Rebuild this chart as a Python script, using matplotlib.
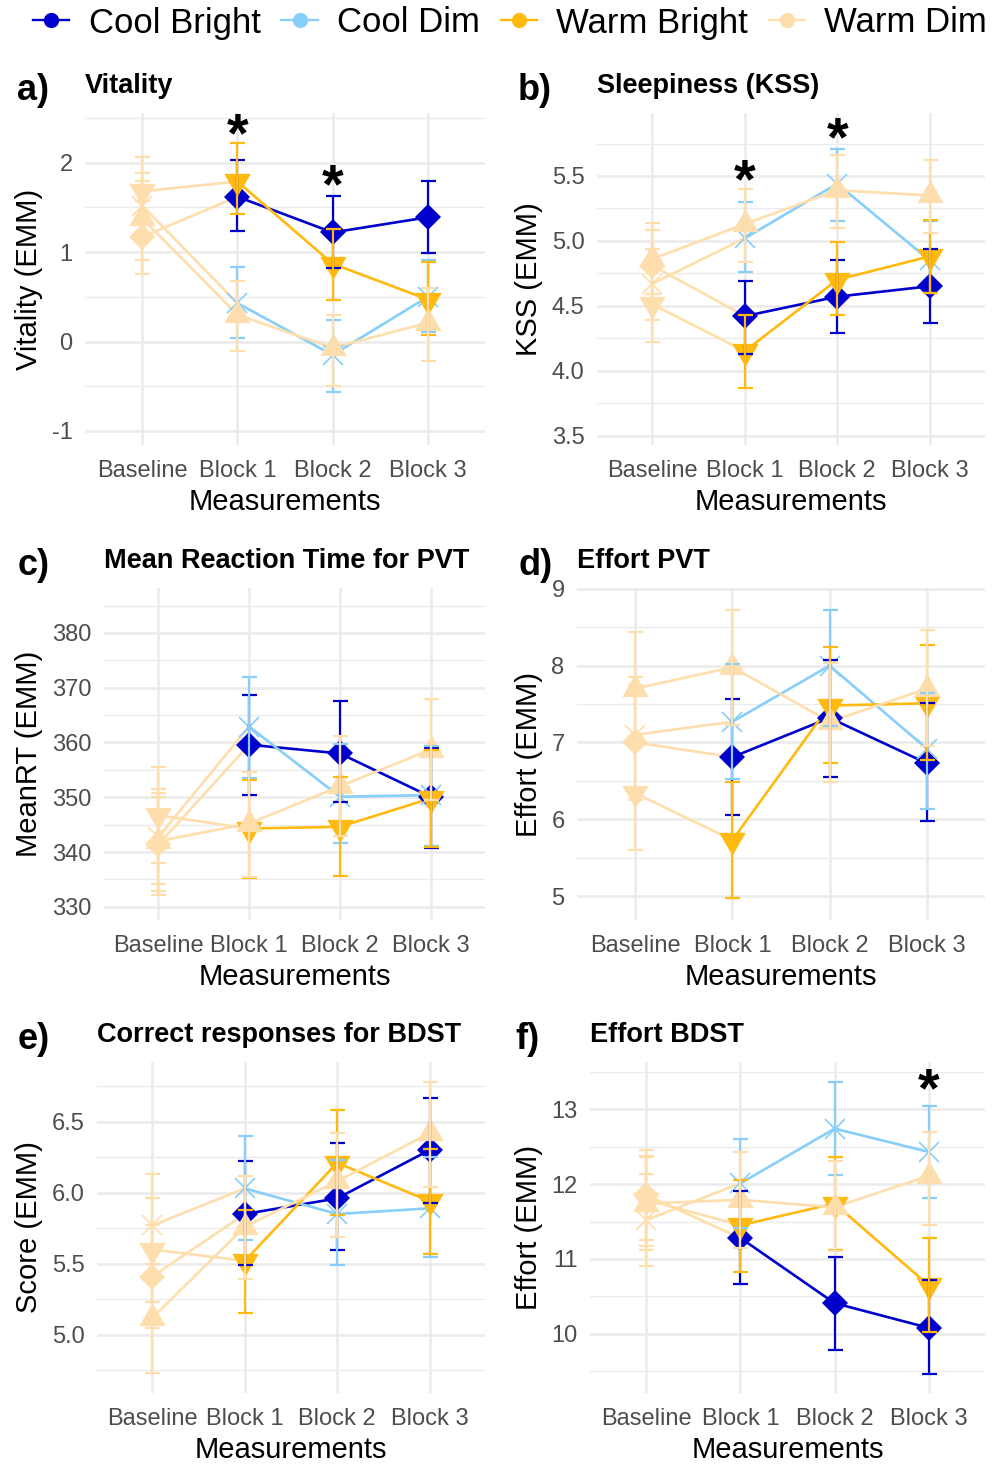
import matplotlib.pyplot as plt
from matplotlib.lines import Line2D
from matplotlib.path import Path
from matplotlib.ticker import FormatStrFormatter

plt.rcParams['font.family'] = ['Liberation Sans', 'DejaVu Sans']
plt.rcParams['axes.unicode_minus'] = False

W, H = 1005, 1466

measurements = ['Baseline', 'Block 1', 'Block 2', 'Block 3']
conditions = ['Cool Bright', 'Cool Dim', 'Warm Bright', 'Warm Dim']
colors = ['#0000CD', '#87CEFA', '#FFB90F', '#FFDEAD']
baseline_color = '#FFDEAD'

# EMMs and 95% CI per condition (rows: Cool Bright, Cool Dim, Warm Bright, Warm Dim)
vitality_emm = [[1.17, 1.62, 1.22, 1.39],
                [1.52, 0.43, -0.15, 0.50],
                [1.68, 1.79, 0.87, 0.47],
                [1.38, 0.30, -0.07, 0.21]]
vitality_lo = [[0.75, 1.24, 0.82, 0.99],
               [1.14, 0.04, -0.56, 0.11],
               [1.30, 1.43, 0.47, 0.07],
               [0.91, -0.11, -0.50, -0.22]]
vitality_hi = [[1.57, 2.03, 1.63, 1.80],
               [1.88, 0.83, 0.24, 0.91],
               [2.06, 2.22, 1.26, 0.89],
               [1.80, 0.68, 0.30, 0.60]]

kss_emm = [[4.81, 4.42, 4.57, 4.65],
           [4.67, 5.02, 5.44, 4.85],
           [4.51, 4.15, 4.70, 4.88],
           [4.86, 5.13, 5.39, 5.35]]
kss_lo = [[4.54, 4.13, 4.29, 4.37],
          [4.39, 4.76, 5.15, 4.60],
          [4.22, 3.87, 4.43, 4.60],
          [4.59, 4.84, 5.10, 5.06]]
kss_hi = [[5.08, 4.69, 4.85, 4.94],
          [4.94, 5.30, 5.71, 5.15],
          [4.80, 4.43, 4.99, 5.16],
          [5.14, 5.40, 5.66, 5.62]]

rt_emm = [[341.4, 359.6, 358.0, 350.1],
          [342.8, 362.9, 350.1, 350.4],
          [346.7, 344.3, 344.6, 349.8],
          [342.0, 345.2, 352.0, 358.7]]
rt_lo = [[332.1, 350.5, 349.2, 340.7],
         [334.1, 353.6, 341.6, 341.1],
         [338.0, 335.3, 335.7, 340.9],
         [332.9, 335.5, 342.9, 349.5]]
rt_hi = [[350.7, 368.7, 367.5, 359.0],
         [351.6, 372.0, 359.7, 359.3],
         [355.6, 353.2, 353.7, 358.7],
         [350.1, 354.7, 361.1, 367.9]]

effort_pvt_emm = [[7.00, 6.81, 7.32, 6.73],
                  [7.10, 7.27, 8.00, 6.92],
                  [6.34, 5.73, 7.48, 7.51],
                  [7.70, 7.98, 7.27, 7.70]]
effort_pvt_lo = [[6.25, 6.06, 6.55, 5.98],
                 [6.35, 6.52, 7.21, 6.14],
                 [5.60, 4.98, 6.73, 6.77],
                 [6.95, 7.23, 6.49, 6.95]]
effort_pvt_hi = [[7.75, 7.56, 8.07, 7.52],
                 [7.85, 8.02, 8.72, 7.65],
                 [7.08, 6.49, 8.24, 8.27],
                 [8.44, 8.73, 8.03, 8.46]]

bdst_emm = [[5.41, 5.85, 5.96, 6.30],
            [5.77, 6.03, 5.85, 5.89],
            [5.60, 5.52, 6.21, 5.94],
            [5.12, 5.76, 6.08, 6.42]]
bdst_lo = [[5.05, 5.49, 5.60, 5.93],
           [5.41, 5.67, 5.49, 5.55],
           [5.23, 5.15, 5.84, 5.57],
           [4.73, 5.39, 5.69, 6.04]]
bdst_hi = [[5.77, 6.22, 6.35, 6.67],
           [6.13, 6.40, 6.23, 6.25],
           [5.96, 5.88, 6.58, 6.31],
           [5.50, 6.12, 6.42, 6.78]]

effort_bdst_emm = [[11.85, 11.28, 10.41, 10.08],
                   [11.52, 12.01, 12.74, 12.43],
                   [11.79, 11.45, 11.74, 10.65],
                   [11.74, 11.79, 11.69, 12.11]]
effort_bdst_lo = [[11.25, 10.67, 9.78, 9.46],
                  [10.90, 11.42, 12.12, 11.81],
                  [11.17, 10.82, 11.12, 10.03],
                  [11.12, 11.15, 11.10, 11.46]]
effort_bdst_hi = [[12.45, 11.91, 11.03, 10.72],
                  [12.13, 12.60, 13.36, 13.04],
                  [12.38, 12.05, 12.36, 11.28],
                  [12.36, 12.43, 12.31, 12.69]]

# significance stars: (measurement index, y position)
vitality_stars = [(1, 2.44), (2, 1.87)]
kss_stars = [(1, 5.55), (2, 5.87)]
effort_bdst_stars = [(3, 13.41)]


def triangle(up=True):
    s = 1 if up else -1
    verts = [(0, s * 1.5551), (1.3468, -s * 0.7776), (-1.3468, -s * 0.7776), (0, s * 1.5551)]
    return Path(verts, closed=True)


markers = ['D', 'x', triangle(False), triangle(True)]
marker_sizes = [13, 14, 22, 22]

panels = [
    # letter, title, ylabel, data, stars, ylim, majors, minors, fmt, rect(l, r, t, b) px
    ('a)', 'Vitality', 'Vitality (EMM)', (vitality_emm, vitality_lo, vitality_hi), vitality_stars,
     (-1.157, 2.556), [-1, 0, 1, 2], [-0.5, 0.5, 1.5, 2.5], '%d', (85, 485, 113, 445)),
    ('b)', 'Sleepiness (KSS)', 'KSS (EMM)', (kss_emm, kss_lo, kss_hi), kss_stars,
     (3.427, 5.985), [3.5, 4.0, 4.5, 5.0, 5.5], [3.75, 4.25, 4.75, 5.25, 5.75], '%.1f', (597, 985, 113, 445)),
    ('c)', 'Mean Reaction Time for PVT', 'MeanRT (EMM)', (rt_emm, rt_lo, rt_hi), [],
     (327.6, 388.2), [330, 340, 350, 360, 370, 380], [335, 345, 355, 365, 375, 385], '%d', (104, 485, 588, 920)),
    ('d)', 'Effort PVT', 'Effort (EMM)', (effort_pvt_emm, effort_pvt_lo, effort_pvt_hi), [],
     (4.69, 9.01), [5, 6, 7, 8, 9], [5.5, 6.5, 7.5, 8.5], '%d', (577, 985, 588, 920)),
    ('e)', 'Correct responses for BDST', 'Score (EMM)', (bdst_emm, bdst_lo, bdst_hi), [],
     (4.59, 6.92), [5.0, 5.5, 6.0, 6.5], [4.75, 5.25, 5.75, 6.25, 6.75], '%.1f', (97, 485, 1062, 1393)),
    ('f)', 'Effort BDST', 'Effort (EMM)', (effort_bdst_emm, effort_bdst_lo, effort_bdst_hi), effort_bdst_stars,
     (9.21, 13.63), [10, 11, 12, 13], [9.5, 10.5, 11.5, 12.5, 13.5], '%d', (590, 985, 1062, 1393)),
]

letter_x = [17, 518, 18, 518, 18, 515]

fig = plt.figure(figsize=(W / 100, H / 100), dpi=100)

for k, (letter, title, ylabel, (emm, lo, hi), stars, ylim, majors, minors, fmt, rect) in enumerate(panels):
    l, r, t, b = rect
    ax = fig.add_axes([l / W, 1 - b / H, (r - l) / W, (b - t) / H])
    x = list(range(len(measurements)))

    # baseline segment takes the baseline colour, the rest the condition colour
    for i in range(len(conditions)):
        ax.plot(x[:2], emm[i][:2], color=baseline_color, lw=1.9, zorder=2)
        ax.plot(x[1:], emm[i][1:], color=colors[i], lw=1.9, zorder=2)
    for i in range(len(conditions)):
        mew = 1.2 if markers[i] == 'x' else 0
        ax.plot(x[:1], emm[i][:1], ls='none', marker=markers[i], ms=marker_sizes[i],
                color=baseline_color, mew=mew, zorder=3)
        ax.plot(x[1:], emm[i][1:], ls='none', marker=markers[i], ms=marker_sizes[i],
                color=colors[i], mew=mew, zorder=3)
    for i in range(len(conditions)):
        err = [[emm[i][j] - lo[i][j] for j in x], [hi[i][j] - emm[i][j] for j in x]]
        ax.errorbar(x[:1], emm[i][:1], yerr=[err[0][:1], err[1][:1]], fmt='none',
                    ecolor=baseline_color, elinewidth=1.6, capsize=5.4, capthick=1.6, zorder=4)
        ax.errorbar(x[1:], emm[i][1:], yerr=[err[0][1:], err[1][1:]], fmt='none',
                    ecolor=colors[i], elinewidth=1.6, capsize=5.4, capthick=1.6, zorder=4)

    fs_star = 40
    for sx, sy in stars:
        ax.annotate('*', xy=(sx, sy), xytext=(0, -0.5 * fs_star), textcoords='offset points',
                    ha='center', va='baseline', fontsize=fs_star, fontweight='bold', zorder=5)

    ax.set_xlim(-0.6, 3.6)
    ax.set_ylim(*ylim)
    ax.set_xticks(x)
    ax.set_xticklabels(measurements)
    ax.set_yticks(majors)
    ax.set_yticks(minors, minor=True)
    ax.yaxis.set_major_formatter(FormatStrFormatter(fmt))
    ax.grid(which='major', color='#EBEBEB', lw=1.8)
    ax.grid(which='minor', axis='y', color='#EBEBEB', lw=1.0)
    ax.set_axisbelow(True)
    for sp in ax.spines.values():
        sp.set_visible(False)
    ax.tick_params(which='both', length=0, labelsize=17, labelcolor='#4D4D4D')
    ax.tick_params(axis='x', pad=11)
    ax.tick_params(axis='y', pad=9)

    # panel letter, title and axis titles
    fig.text(letter_x[k] / W, 1 - (t - 13) / H, letter,
             fontsize=26, fontweight='bold', ha='left', va='baseline')
    fig.text(l / W, 1 - (t - 20) / H, title, fontsize=19.5, fontweight='bold', ha='left', va='baseline')
    fig.text((l + r) / 2 / W, 1 - (b + 65) / H, 'Measurements', fontsize=21, ha='center', va='baseline')
    col_x = 29 if k % 2 == 0 else 529
    fig.text(col_x / W, 1 - (t + b) / 2 / H, ylabel, fontsize=21, rotation=90, ha='center', va='center')

handles = [Line2D([0], [0], color=c, lw=1.7, marker='o', ms=11, mew=0) for c in colors]
fig.legend(handles, conditions, loc='center', bbox_to_anchor=(510 / W, 1 - 23 / H), ncol=4,
           frameon=False, fontsize=25, handlelength=1.05, handletextpad=0.55, columnspacing=0.6,
           borderaxespad=0, borderpad=0)

fig.savefig('out.png', dpi=100)
